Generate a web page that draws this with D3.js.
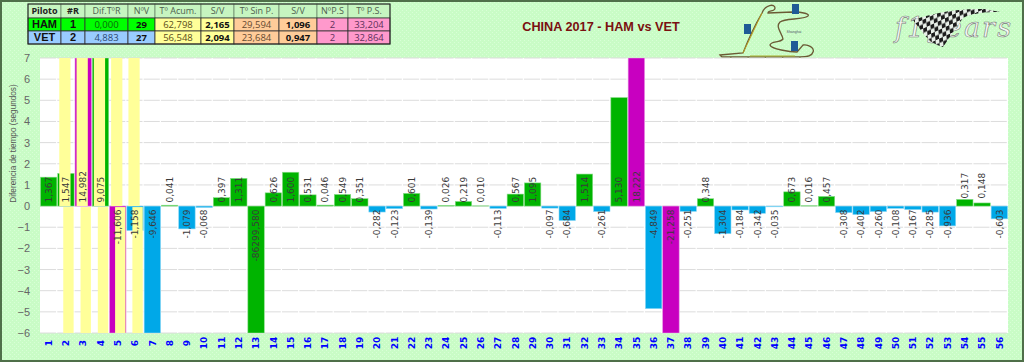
<!DOCTYPE html>
<html>
<head>
<meta charset="utf-8">
<script src="https://cdn.jsdelivr.net/npm/d3@7"></script>
<style>
html, body { margin: 0; padding: 0; background: #ccfcc8; }
svg { display: block; }
</style>
</head>
<body>
<svg width="1024" height="362"></svg>
<script>
var laps = d3.range(1, 57);
var diffs = [1.367, 1.547, 14.982, 9.075, -11.606, -1.158, -9.646, 0.041, -1.079, -0.068,
	0.397, 1.311, -86299.580, 0.626, 1.600, 0.531, 0.046, 0.549, 0.351, -0.282,
	-0.123, 0.601, -0.139, 0.026, 0.219, 0.010, -0.113, 0.567, 1.095, -0.097,
	-0.684, 1.514, -0.261, 5.130, 18.222, -4.849, -21.258, -0.251, 0.348, -1.304,
	-0.184, -0.342, -0.035, 0.673, 0.016, 0.457, -0.308, -0.402, -0.260, -0.108,
	-0.167, -0.285, -0.936, 0.317, 0.148, -0.603];
var pitLaps = [3, 5, 35, 37];
var hamLaps = [13];	// negative but still painted green
var yellowLaps = [2, 3, 4, 5, 6];
var raisedLabels = [54, 55];
var yTicks = [7, 6, 5, 4, 3, 2, 1, 0, -1, -2, -3, -4, -5, -6];

var tableHead = ["Piloto", "#R", "Dif.TºR", "NºV", "Tº Acum.", "S/V", "Tº Sin P.", "S/V", "NºP.S", "Tº P.S."];
var rowHam = ["HAM", "1", "0,000", "29", "62,798", "2,165", "29,594", "1,096", "2", "33,204"];
var rowVet = ["VET", "2", "4,883", "27", "56,548", "2,094", "23,684", "0,947", "2", "32,864"];
var colEdges = [28, 61, 85, 128, 155, 201, 234, 279, 317, 348, 390];
var boldCols = [0, 1, 3, 5, 7];

var svg = d3.select("svg"),
	width = +svg.attr("width"),
	height = +svg.attr("height");

var margin = {left: 40, right: 16, top: 58, bottom: 29};

var x = d3.scaleBand().domain(laps).range([margin.left, width - margin.right]).paddingInner(0.05).paddingOuter(0.025);
var y = d3.scaleLinear().domain([-6, 7]).range([height - margin.bottom, margin.top]);
var step = x.step();

// dithered background like the gif
var defs = svg.append("defs");
var dither = defs.append("pattern").attr("id", "dither").attr("width", 4).attr("height", 4).attr("patternUnits", "userSpaceOnUse");
dither.append("rect").attr("width", 4).attr("height", 4).attr("fill", "#c9fcc6");
dither.append("rect").attr("x", 0).attr("y", 0).attr("width", 1).attr("height", 1).attr("fill", "#d8ffd6");
dither.append("rect").attr("x", 2).attr("y", 2).attr("width", 1).attr("height", 1).attr("fill", "#d8ffd6");

var checker = defs.append("pattern").attr("id", "checker").attr("width", 8).attr("height", 8)
	.attr("patternUnits", "userSpaceOnUse").attr("patternTransform", "rotate(-25) skewX(-20)");
checker.append("rect").attr("width", 8).attr("height", 8).attr("fill", "#e8efe8");
checker.append("rect").attr("width", 4).attr("height", 4).attr("fill", "#1c1c1c");
checker.append("rect").attr("x", 4).attr("y", 4).attr("width", 4).attr("height", 4).attr("fill", "#1c1c1c");

defs.append("clipPath").attr("id", "plotClip").append("rect")
	.attr("x", margin.left).attr("y", margin.top)
	.attr("width", width - margin.left - margin.right)
	.attr("height", height - margin.top - margin.bottom);

svg.append("rect").attr("x", 1).attr("y", 1).attr("width", width - 2).attr("height", height - 2)
	.attr("fill", "url(#dither)").attr("stroke", "#4f6f49").attr("stroke-width", 2);

function drawTable(){
	var t = svg.append("g").attr("class", "table");
	var rows = [tableHead, rowHam, rowVet];
	var rowY = [4, 18, 31, 44];

	function cellFill(r, c){
		if (r == 0) return "#c6f5c0";
		if (c < 4) return r == 1 ? "#00ff00" : "#99ccff";
		if (c < 6) return "#ffff99";
		if (c < 8) return "#ffcc99";
		return "#ff99cc";
	}
	function cellColor(r, c){
		if (r == 0) return c < 2 ? "#222" : "#4f5f4f";
		if (boldCols.indexOf(c) >= 0) return "#111";
		if (c < 4) return r == 1 ? "#0a6a0a" : "#2c4870";
		if (c < 6) return "#5a4c18";
		if (c < 8) return "#654a30";
		return "#60305a";
	}

	rows.forEach(function(row, r){
		row.forEach(function(txt, c){
			t.append("rect")
				.attr("x", colEdges[c]).attr("y", rowY[r])
				.attr("width", colEdges[c + 1] - colEdges[c]).attr("height", rowY[r + 1] - rowY[r])
				.attr("fill", cellFill(r, c))
				.attr("stroke", r == 0 ? "#6d8a6d" : "#333")
				.attr("stroke-width", 0.8);
			t.append("text")
				.attr("x", (colEdges[c] + colEdges[c + 1]) / 2)
				.attr("y", (rowY[r] + rowY[r + 1]) / 2)
				.attr("dy", "0.35em")
				.attr("text-anchor", "middle")
				.attr("font-family", r > 0 && c < 2 ? "'Liberation Sans', sans-serif" : "'Open Sans', sans-serif")
				.attr("font-size", r == 0 ? 9 : (c < 2 ? 11 : 9.5))
				.attr("font-weight", (boldCols.indexOf(c) >= 0 && r > 0) || (r == 0 && c < 2) ? "bold" : "normal")
				.attr("fill", cellColor(r, c))
				.text(txt);
		});
	});
	t.append("rect").attr("x", 28).attr("y", 4).attr("width", 362).attr("height", 40)
		.attr("fill", "none").attr("stroke", "#222").attr("stroke-width", 1);
}

function drawTitle(){
	svg.append("text")
		.attr("x", 601).attr("y", 26.5).attr("dy", "0.35em")
		.attr("text-anchor", "middle")
		.attr("font-family", "'Liberation Sans', sans-serif")
		.attr("font-size", 12.7)
		.attr("font-weight", "bold")
		.attr("fill", "#7a1010")
		.text("CHINA 2017 - HAM vs VET");
}

// circuit sketch, decoration only
function drawTrack(){
	var track = "M720,55 L743,53 C748,40 755,25 762,13 C765,5 775,3 775,8 C775,12 768,10 768,13 L793,12 C803,12 810,14 808,16 C803,20 785,18 780,22 C775,27 782,33 783,39 C780,43 771,41 770,45 C771,49 790,52 797,52 L803,45 C808,44 815,48 813,52 C812,56 808,57 800,57 L722,57 Z";
	var t = svg.append("g").attr("class", "track");
	t.append("path").attr("d", track).attr("fill", "none").attr("stroke", "#6b5a35").attr("stroke-width", 1.3);
	t.append("path").attr("d", "M743,53 L762,13").attr("stroke", "#b8a020").attr("stroke-width", 1);
	t.append("path").attr("d", "M750,56 L795,56").attr("stroke", "#a8b030").attr("stroke-width", 1);
	[[744, 24], [792, 4], [791, 41]].forEach(function(p){
		t.append("rect").attr("x", p[0]).attr("y", p[1]).attr("width", 7).attr("height", 10).attr("fill", "#1f5a96");
	});
	t.append("text").attr("x", 794).attr("y", 33).attr("text-anchor", "middle")
		.attr("font-family", "sans-serif").attr("font-size", 3.5).attr("fill", "#556").text("Shanghai");
}

function drawLogo(){
	var l = svg.append("g").attr("class", "logo");
	l.append("text")
		.attr("x", 895).attr("y", 37)
		.attr("font-family", "'DejaVu Serif', serif")
		.attr("font-style", "italic")
		.attr("font-size", 27)
		.attr("textLength", 116)
		.attr("fill", "#f4f7f4")
		.attr("stroke", "#777c77")
		.attr("stroke-width", 0.6)
		.text("f1gears");
	l.append("path")
		.attr("d", "M913,20 C930,14 955,8 985,9 L1000,12 C985,12 972,13 963,18 L943,47 C935,45 928,40 923,33 Z")
		.attr("fill", "url(#checker)");
}

function drawAxes(){
	svg.append("rect")
		.attr("x", margin.left).attr("y", margin.top)
		.attr("width", width - margin.left - margin.right)
		.attr("height", height - margin.top - margin.bottom)
		.attr("fill", "#fff");

	var yAxis = svg.append("g")
		.attr("class", "y-axis")
		.attr("transform", "translate(" + margin.left + ",0)")
		.call(d3.axisLeft(y).tickValues(yTicks).tickSize(0).tickPadding(10).tickFormat(d3.format("d")));
	yAxis.select(".domain").remove();
	yAxis.selectAll("text")
		.attr("font-family", "'Liberation Sans', sans-serif")
		.attr("font-size", 11)
		.attr("fill", "#666");

	svg.append("g").attr("class", "grid").selectAll("line")
		.data(yTicks).enter().append("line")
		.attr("x1", margin.left)
		.attr("x2", width - margin.right)
		.attr("y1", function(d) { return y(d); })
		.attr("y2", function(d) { return y(d); })
		.attr("stroke", "#dcdcdc")
		.attr("stroke-width", 1)
		.attr("stroke-dasharray", (step - 1.2) + " 1.2");

	var xAxis = svg.append("g")
		.attr("class", "x-axis")
		.attr("transform", "translate(0," + (height - margin.bottom) + ")")
		.call(d3.axisBottom(x).tickSize(0).tickPadding(0));
	xAxis.select(".domain").remove();
	xAxis.selectAll("text")
		.attr("transform", "translate(0,10) rotate(-90)")
		.attr("x", 0).attr("y", 0).attr("dy", "0.35em")
		.attr("text-anchor", "middle")
		.attr("font-family", "'DejaVu Sans', sans-serif")
		.attr("font-size", 9)
		.attr("font-weight", "bold")
		.attr("fill", "#0000ff");

	svg.append("text")
		.attr("transform", "translate(13.5,143.5) rotate(-90)")
		.attr("text-anchor", "middle")
		.attr("dy", "0.35em")
		.attr("font-family", "'Liberation Sans', sans-serif")
		.attr("font-size", 8.2)
		.attr("fill", "#555")
		.text("Diferencia de tiempo (segundos)");
}

function barColor(d){
	if (pitLaps.indexOf(d.lap) >= 0) return "#c800c0";
	if (hamLaps.indexOf(d.lap) >= 0) return "#00b400";
	return d.value >= 0 ? "#00b400" : "#00a8e8";
}

function drawBars(){
	var data = laps.map(function(lap, i) { return {lap: lap, value: diffs[i]}; });
	var plot = svg.append("g").attr("class", "bars").attr("clip-path", "url(#plotClip)");

	plot.selectAll(".bar")
		.data(data).enter().append("rect")
		.attr("class", "bar")
		.attr("x", function(d) { return x(d.lap); })
		.attr("width", x.bandwidth())
		.attr("y", function(d) { return y(Math.min(7, Math.max(d.value, 0))); })
		.attr("height", function(d) { return Math.abs(y(Math.max(-6, Math.min(d.value, 7))) - y(0)); })
		.attr("fill", barColor)
		.attr("stroke", function(d) { return d3.interpolateRgb(barColor(d), "#fff")(0.55); })
		.attr("stroke-width", 0.6);

	// yellow columns sit over the bars, the lower half shifted right
	plot.selectAll(".yellowUp")
		.data(yellowLaps).enter().append("rect")
		.attr("class", "yellowUp")
		.attr("x", function(d) { return x(d) + step * 0.09; })
		.attr("width", step * 0.65)
		.attr("y", y(7))
		.attr("height", y(0) - y(7))
		.attr("fill", "#ffff99");
	plot.selectAll(".yellowDown")
		.data(yellowLaps).enter().append("rect")
		.attr("class", "yellowDown")
		.attr("x", function(d) { return x(d) + step * 0.32; })
		.attr("width", step * 0.6)
		.attr("y", y(0) + 1)
		.attr("height", y(-6) - y(0) - 1)
		.attr("fill", "#ffff99");

	svg.append("g").attr("class", "labels").selectAll("text")
		.data(data).enter().append("text")
		.attr("transform", function(d) {
			var ly = d.value >= 0 ? y(0) - 3.5 : y(0) + 3.5;
			if (raisedLabels.indexOf(d.lap) >= 0) ly -= 4;
			return "translate(" + (x(d.lap) + x.bandwidth() / 2) + "," + ly + ") rotate(-90)";
		})
		.attr("text-anchor", function(d) { return d.value >= 0 ? "start" : "end"; })
		.attr("dy", "0.35em")
		.attr("font-family", "'DejaVu Sans', sans-serif")
		.attr("font-size", 9)
		.attr("fill", "#3a3a3a")
		.text(function(d) { return d.value.toFixed(3).replace(".", ","); });
}

drawTable();
drawTitle();
drawTrack();
drawLogo();
drawAxes();
drawBars();
</script>
</body>
</html>
